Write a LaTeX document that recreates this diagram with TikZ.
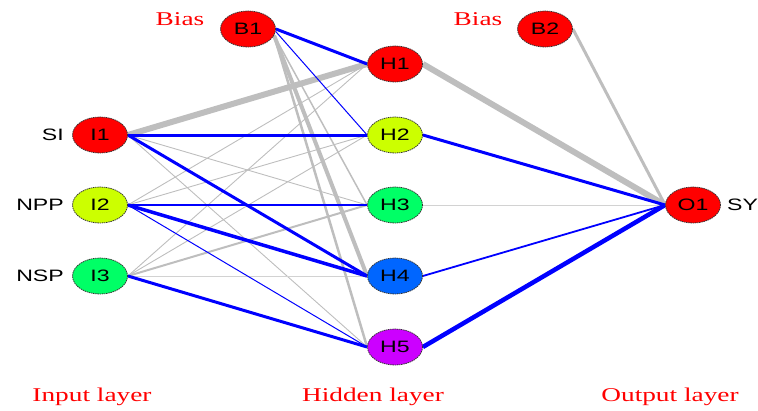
\documentclass[tikz,border=0pt]{standalone}
\usepackage{fontspec}
\usetikzlibrary{shapes.geometric,backgrounds}
\newfontfamily\nodefont[FakeStretch=1.4]{Liberation Sans}
\newfontfamily\capfont[FakeStretch=1.4]{Liberation Serif}

\definecolor{cRed}{HTML}{FF0000}
\definecolor{cLime}{HTML}{CCFF00}
\definecolor{cMint}{HTML}{00FF66}
\definecolor{cAzure}{HTML}{0066FF}
\definecolor{cViolet}{HTML}{CC00FF}
\definecolor{wpos}{HTML}{0000FF}
\definecolor{wneg}{HTML}{BEBEBE}
\definecolor{wfaint}{HTML}{D2D2D2}

\tikzset{
  neuron/.style={ellipse, draw=black!80, dash pattern=on 1.4pt off 0.8pt,
    line width=0.8pt, minimum width=55pt, minimum height=36pt, inner sep=0pt,
    font=\nodefont\fontsize{16.5}{16}\selectfont},
  varname/.style={inner sep=0pt, font=\nodefont\fontsize{16.5}{16}\selectfont},
  caption/.style={inner sep=0pt, text=red, font=\capfont\fontsize{19.5}{20}\selectfont},
  posw/.style={draw=wpos},
  negw/.style={draw=wneg},
  faintw/.style={draw=wfaint},
}

\begin{document}
\begin{tikzpicture}[x=1pt, y=-1pt]
\useasboundingbox (0,0) rectangle (758,410);

% neurons
\node[neuron, fill=cRed]    (B1) at (248,29)  {B1};
\node[neuron, fill=cRed]    (B2) at (545,29)  {B2};
\node[neuron, fill=cRed]    (I1) at (100,135) {I1};
\node[neuron, fill=cLime]   (I2) at (100,205) {I2};
\node[neuron, fill=cMint]   (I3) at (100,276) {I3};
\node[neuron, fill=cRed]    (H1) at (395,64)  {H1};
\node[neuron, fill=cLime]   (H2) at (395,135) {H2};
\node[neuron, fill=cMint]   (H3) at (395,205) {H3};
\node[neuron, fill=cAzure]  (H4) at (395,276) {H4};
\node[neuron, fill=cViolet] (H5) at (395,347) {H5};
\node[neuron, fill=cRed]    (O1) at (693,205) {O1};

% variable names
\node[varname, anchor=east] (nSI)  at (64,135) {SI};
\node[varname, anchor=east] (nNPP) at (64,205) {NPP};
\node[varname, anchor=east] (nNSP) at (64,276) {NSP};
\node[varname, anchor=west] (nSY)  at (727,205) {SY};

% captions
\node[caption] (bias1) at (180,19) {Bias};
\node[caption] (bias2) at (478,19) {Bias};
\node[caption] (lin)  at (92,397)  {Input layer};
\node[caption] (lhid) at (373,397) {Hidden layer};
\node[caption] (lout) at (670,397) {Output layer};

% weights, behind the neurons
\begin{pgfonlayer}{background}
  % negative weights (grey)
  \draw[negw, line width=6pt]   (I1.east) -- (H1.west);
  \draw[negw, line width=0.9pt] (I1.east) -- (H3.west);
  \draw[negw, line width=0.9pt] (I1.east) -- (H5.west);
  \draw[negw, line width=0.9pt] (I2.east) -- (H1.west);
  \draw[negw, line width=0.9pt] (I2.east) -- (H2.west);
  \draw[negw, line width=0.9pt] (I3.east) -- (H1.west);
  \draw[negw, line width=0.9pt] (I3.east) -- (H2.west);
  \draw[negw, line width=2pt]   (I3.east) -- (H3.west);
  \draw[faintw, line width=1pt] (I3.east) -- (H4.west);
  \draw[negw, line width=1.5pt] (B1.-14) -- (H3.west);
  \draw[negw, line width=4pt]   (B1.-14) -- (H4.west);
  \draw[negw, line width=2.5pt] (B1.-14) -- (H5.west);
  \draw[negw, line width=6pt]   (H1.east) -- (O1.west);
  \draw[faintw, line width=1pt] (H3.east) -- (O1.west);
  \draw[negw, line width=3pt]   (B2.east) -- (O1.west);
  % positive weights (blue)
  \draw[posw, line width=3pt]   (B1.east) -- (H1.west);
  \draw[posw, line width=1pt]   (B1.-5) -- (H2.west);
  \draw[posw, line width=3pt]   (I1.east) -- (H2.west);
  \draw[posw, line width=3pt]   (I1.east) -- (H4.west);
  \draw[posw, line width=2pt]   (I2.east) -- (H3.west);
  \draw[posw, line width=3.5pt] (I2.east) -- (H4.west);
  \draw[posw, line width=1pt]   (I2.east) -- (H5.west);
  \draw[posw, line width=3pt]   (I3.east) -- (H5.west);
  \draw[posw, line width=3pt]   (H2.east) -- (O1.west);
  \draw[posw, line width=1.8pt] (H4.east) -- (O1.west);
  \draw[posw, line width=4.5pt] (H5.east) -- (O1.west);
\end{pgfonlayer}

\end{tikzpicture}
\end{document}
